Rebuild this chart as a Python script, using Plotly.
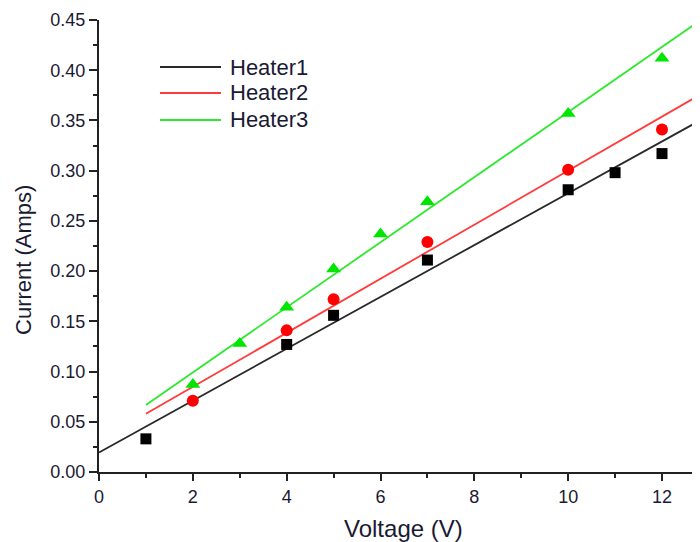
import numpy as np
import plotly.graph_objects as go

# ---- data ----
h1_v = [1, 4, 5, 7, 10, 11, 12]
h1_i = [0.033, 0.127, 0.156, 0.211, 0.281, 0.298, 0.317]
h2_v = [2, 4, 5, 7, 10, 12]
h2_i = [0.071, 0.141, 0.172, 0.229, 0.301, 0.341]
h3_v = [2, 3, 4, 5, 6, 7, 10, 12]
h3_i = [0.087, 0.128, 0.164, 0.202, 0.237, 0.269, 0.357, 0.412]

# linear fits (intercept, slope) as drawn in the figure, and their x spans
fit_names = ["Heater1", "Heater2", "Heater3"]
fit_intercepts = [0.0195, 0.031, 0.0343]
fit_slopes = [0.0258, 0.0269, 0.0324]
fit_x_start = [0, 1, 1]
fit_x_end = 13.5

x_range = [0, 12.81]
y_range = [0, 0.45]
x_ticks = [0, 2, 4, 6, 8, 10, 12]
y_ticks = [0.00, 0.05, 0.10, 0.15, 0.20, 0.25, 0.30, 0.35, 0.40, 0.45]

line_colors = ["#2a2a2a", "#ff3b3b", "#2ee82e"]
marker_colors = ["#000000", "#ff0000", "#00e600"]
marker_symbols = ["square", "circle", "triangle-up"]
marker_sizes = [11, 12, 13]

FONT = "Liberation Sans, Arial, sans-serif"
TXT = "#1a1a33"

fig = go.Figure()

for name, b0, b1, xs, lc in zip(fit_names, fit_intercepts, fit_slopes, fit_x_start, line_colors):
    xx = np.array([xs, fit_x_end], dtype=float)
    fig.add_trace(go.Scatter(
        x=xx, y=b0 + b1 * xx, mode="lines", name=name,
        line=dict(color=lc, width=1.8), showlegend=False,
    ))

for vx, iy, mc, ms, sz in zip([h1_v, h2_v, h3_v], [h1_i, h2_i, h3_i],
                              marker_colors, marker_symbols, marker_sizes):
    fig.add_trace(go.Scatter(
        x=vx, y=iy, mode="markers", showlegend=False,
        marker=dict(color=mc, symbol=ms, size=sz, line=dict(width=0)),
    ))

# legend drawn as line samples + labels (paper coordinates of the plot area)
legend_rows_y = [0.896, 0.8385, 0.779]
legend_line_x = [0.1015, 0.203]
legend_text_x = 0.2146
for name, lc, ly in zip(fit_names, line_colors, legend_rows_y):
    fig.add_shape(type="line", xref="paper", yref="paper",
                  x0=legend_line_x[0], x1=legend_line_x[1], y0=ly, y1=ly,
                  line=dict(color=lc, width=2))
    fig.add_annotation(xref="paper", yref="paper", x=legend_text_x, y=ly,
                       xanchor="left", yanchor="middle", showarrow=False,
                       text=name, font=dict(family=FONT, size=22, color=TXT))

# axis titles
fig.add_annotation(xref="paper", yref="paper", x=0.506, y=-0.124,
                   xanchor="center", yanchor="middle", showarrow=False,
                   text="Voltage (V)", font=dict(family=FONT, size=24, color=TXT))
fig.add_annotation(xref="paper", yref="paper", x=-0.1265, y=0.469,
                   xanchor="center", yanchor="middle", showarrow=False, textangle=-90,
                   text="Current (Amps)", font=dict(family=FONT, size=22, color=TXT))

tick_font = dict(family=FONT, size=18, color=TXT)

fig.update_layout(
    width=692, height=534,
    margin=dict(l=91, r=0, t=12, b=70),
    paper_bgcolor="white", plot_bgcolor="white",
    font=dict(family=FONT, color=TXT),
    showlegend=False,
    xaxis=dict(
        range=x_range, tickvals=x_ticks, ticktext=[str(v) for v in x_ticks],
        showgrid=False, zeroline=False, showline=True, linecolor="#222", linewidth=2,
        ticks="outside", ticklen=7, tickwidth=2, tickcolor="#222",
        minor=dict(ticks="outside", ticklen=4, tickwidth=1.5, tickcolor="#222", dtick=1, tick0=0),
        tickfont=tick_font,
    ),
    yaxis=dict(
        range=y_range, tickvals=y_ticks, ticktext=["%.2f" % v for v in y_ticks],
        showgrid=False, zeroline=False, showline=True, linecolor="#222", linewidth=2,
        ticks="outside", ticklen=8, tickwidth=2, tickcolor="#222",
        minor=dict(ticks="outside", ticklen=4, tickwidth=1.5, tickcolor="#222", dtick=0.025, tick0=0),
        tickfont=tick_font,
    ),
)

fig.write_html("out.html")
